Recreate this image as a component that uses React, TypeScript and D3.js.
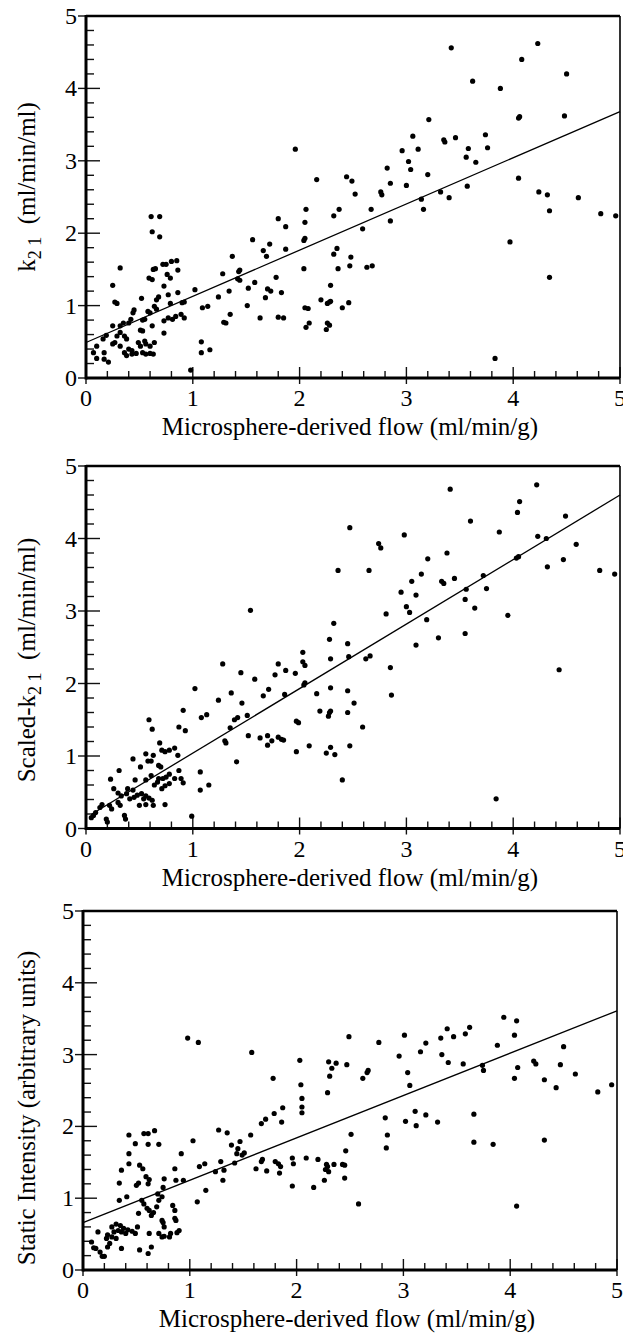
import React, { useEffect, useRef } from 'react';
import * as d3 from 'd3';

// x ticks / y ticks shared by all three panels
const majorTicks = [0, 1, 2, 3, 4, 5];
const xTitle = 'Microsphere-derived flow (ml/min/g)';

// panel 1: k21 vs flow
const k21Points: [number, number][] = [
  [3.42, 4.56], [4.23, 4.62], [4.08, 4.40], [4.50, 4.20], [3.62, 4.10], [3.88, 4.00], [3.21, 3.57], [4.05, 3.59],
  [4.06, 3.61], [4.48, 3.62], [3.06, 3.34], [3.35, 3.29], [3.36, 3.26], [3.46, 3.32], [3.74, 3.36], [2.96, 3.14],
  [3.11, 3.16], [3.58, 3.17], [3.76, 3.18], [3.56, 3.05], [3.65, 2.98], [3.02, 2.99], [3.04, 2.88], [2.82, 2.90],
  [3.20, 2.81], [2.85, 2.69], [3.00, 2.66], [2.16, 2.74], [2.44, 2.78], [2.49, 2.72], [2.52, 2.54], [2.76, 2.57],
  [2.77, 2.53], [4.05, 2.76], [4.24, 2.57], [4.32, 2.53], [4.61, 2.49], [3.32, 2.57], [3.40, 2.49], [3.57, 2.65],
  [1.96, 3.16],
  [3.14, 2.47], [3.16, 2.33], [4.34, 2.31], [4.82, 2.27], [4.96, 2.24], [3.97, 1.88], [4.34, 1.39], [3.83, 0.27],
  [2.32, 2.24], [2.37, 2.33], [2.06, 2.33], [2.05, 2.15], [2.05, 1.93], [2.04, 1.90], [2.04, 1.51], [2.67, 2.33],
  [2.85, 2.17], [2.59, 2.06], [2.32, 1.71], [2.35, 1.79], [2.36, 1.51], [2.48, 1.67], [2.47, 1.55], [2.63, 1.53],
  [2.68, 1.55], [1.80, 2.20], [1.87, 2.09], [1.56, 1.91], [1.72, 1.85], [1.66, 1.76], [1.69, 1.68], [1.87, 1.78],
  [1.37, 1.68], [1.28, 1.44], [1.43, 1.47], [1.44, 1.49], [1.34, 1.20], [1.42, 1.37], [1.44, 1.35], [1.58, 1.32],
  [1.52, 1.24], [1.78, 1.39], [1.70, 1.23], [1.73, 1.20], [1.68, 1.11], [1.83, 1.18], [1.51, 1.00], [1.63, 0.83],
  [1.80, 0.84], [1.85, 0.83], [2.05, 0.97], [2.08, 0.96], [2.06, 0.70], [2.09, 0.76], [2.20, 1.08], [2.28, 1.05],
  [2.26, 1.03], [2.29, 1.06], [2.29, 1.28], [2.26, 0.76], [2.28, 0.73], [2.25, 0.67], [2.40, 0.97], [2.46, 1.04],
  [1.24, 1.12], [1.35, 0.88], [1.29, 0.77], [1.31, 0.76], [1.02, 1.22], [1.09, 0.97], [1.14, 0.99], [1.08, 0.50],
  [1.08, 0.35], [1.16, 0.39], [0.98, 0.11],
  [0.32, 1.52], [0.25, 1.28], [0.27, 1.05], [0.29, 1.03], [0.61, 2.23], [0.69, 2.23], [0.62, 2.02], [0.69, 1.95],
  [0.63, 1.50], [0.65, 1.51], [0.59, 1.38], [0.62, 1.36], [0.72, 1.57], [0.75, 1.57], [0.80, 1.61], [0.85, 1.62],
  [0.79, 1.38], [0.76, 1.43], [0.73, 1.27], [0.86, 1.49], [0.77, 1.15], [0.86, 1.18], [0.68, 1.12], [0.66, 1.08],
  [0.52, 1.10], [0.45, 0.94], [0.44, 0.90], [0.53, 0.80], [0.55, 0.81], [0.58, 0.92], [0.60, 0.90], [0.64, 0.99],
  [0.66, 0.95], [0.79, 1.03], [0.90, 1.04], [0.92, 1.05], [0.73, 0.79], [0.77, 0.83], [0.81, 0.81], [0.84, 0.85],
  [0.89, 0.88], [0.92, 0.83], [0.73, 0.62], [0.62, 0.72], [0.42, 0.81], [0.40, 0.76], [0.32, 0.72], [0.35, 0.76],
  [0.25, 0.72], [0.51, 0.66], [0.53, 0.65], [0.36, 0.58], [0.38, 0.54], [0.29, 0.58], [0.32, 0.63], [0.19, 0.59],
  [0.16, 0.54], [0.10, 0.44], [0.07, 0.35], [0.10, 0.27], [0.17, 0.35], [0.17, 0.26], [0.21, 0.22], [0.25, 0.47],
  [0.27, 0.49], [0.32, 0.44], [0.36, 0.35], [0.40, 0.40], [0.43, 0.38], [0.49, 0.49], [0.51, 0.44], [0.55, 0.51],
  [0.56, 0.47], [0.60, 0.44], [0.64, 0.49], [0.43, 0.33], [0.47, 0.34], [0.53, 0.35], [0.56, 0.33], [0.60, 0.34],
  [0.63, 0.33], [0.38, 0.31],
];
const k21Fit = [0.49, 0.638]; // intercept, slope
const k21FitRange = [0, 5];

// panel 2: scaled k21 vs flow
const scaledPoints: [number, number][] = [
  [3.41, 4.68], [4.22, 4.74], [4.06, 4.51], [4.04, 4.36], [3.60, 4.24], [4.49, 4.31], [2.47, 4.15], [3.87, 4.09],
  [2.98, 4.05], [2.74, 3.93], [2.76, 3.87], [4.23, 4.03], [4.31, 4.00], [4.59, 3.92], [3.38, 3.80], [3.20, 3.72],
  [4.03, 3.73], [4.05, 3.75], [4.47, 3.71], [4.32, 3.61], [4.81, 3.56], [4.95, 3.51], [2.36, 3.56], [2.65, 3.56],
  [3.14, 3.51], [3.05, 3.41], [3.33, 3.41], [3.35, 3.38], [3.45, 3.45], [3.72, 3.49], [3.56, 3.30], [3.75, 3.31],
  [2.95, 3.26], [3.09, 3.22], [3.55, 3.16], [3.64, 3.04], [3.00, 3.06], [3.03, 2.98], [2.81, 2.96], [3.95, 2.94],
  [3.19, 2.88], [2.32, 2.83], [2.28, 2.61], [2.45, 2.55], [3.30, 2.63], [3.55, 2.69], [3.09, 2.53], [2.03, 2.43],
  [2.29, 2.34], [2.46, 2.37], [2.62, 2.34], [2.66, 2.38], [1.54, 3.01],
  [2.85, 2.22], [2.86, 1.84], [4.43, 2.19], [3.84, 0.41], [1.28, 2.27], [1.80, 2.27], [2.03, 2.30], [2.05, 2.25],
  [1.45, 2.15], [1.77, 2.12], [1.87, 2.18], [1.96, 2.14], [1.58, 2.06], [1.02, 1.93], [2.05, 2.01], [2.04, 1.98],
  [1.71, 1.92], [1.36, 1.87], [1.66, 1.83], [1.86, 1.85], [2.16, 1.86], [2.45, 1.90], [2.29, 1.94], [1.24, 1.77],
  [1.46, 1.73], [2.51, 1.73], [0.91, 1.63], [2.19, 1.62], [2.28, 1.60], [2.29, 1.62], [2.27, 1.55], [2.45, 1.60],
  [1.08, 1.53], [1.13, 1.57], [1.39, 1.50], [1.42, 1.53], [1.51, 1.56], [0.59, 1.50], [0.62, 1.37], [0.87, 1.40],
  [0.93, 1.35], [1.35, 1.39], [2.59, 1.40], [1.52, 1.28], [1.30, 1.21], [1.31, 1.18], [1.63, 1.25], [1.70, 1.28],
  [1.70, 1.15], [1.74, 1.21], [1.80, 1.26], [1.83, 1.23], [1.85, 1.22], [1.97, 1.48], [1.99, 1.46], [1.97, 1.06],
  [2.09, 1.14], [2.25, 1.04], [2.29, 1.12], [2.33, 1.02], [2.47, 1.14], [2.40, 0.67], [1.41, 0.92], [1.07, 0.78],
  [1.07, 0.53], [1.15, 0.60], [0.99, 0.17],
  [0.31, 0.80], [0.23, 0.68], [0.44, 0.96], [0.56, 1.03], [0.63, 1.01], [0.69, 1.18], [0.71, 1.08], [0.74, 1.06],
  [0.78, 1.08], [0.83, 1.11], [0.86, 1.01], [0.87, 0.80], [0.58, 0.93], [0.61, 0.93], [0.51, 0.85], [0.68, 0.87],
  [0.70, 0.85], [0.46, 0.67], [0.56, 0.67], [0.61, 0.73], [0.68, 0.69], [0.72, 0.69], [0.75, 0.71], [0.78, 0.75],
  [0.83, 0.69], [0.89, 0.69], [0.91, 0.63], [0.64, 0.60], [0.67, 0.64], [0.71, 0.55], [0.74, 0.59], [0.78, 0.62],
  [0.39, 0.55], [0.44, 0.53], [0.26, 0.55], [0.30, 0.49], [0.33, 0.45], [0.38, 0.48], [0.41, 0.41], [0.45, 0.43],
  [0.48, 0.46], [0.52, 0.48], [0.54, 0.41], [0.56, 0.45], [0.59, 0.42], [0.62, 0.39], [0.50, 0.32], [0.56, 0.33],
  [0.63, 0.32], [0.74, 0.33], [0.15, 0.33], [0.13, 0.29], [0.22, 0.32], [0.24, 0.27], [0.30, 0.36], [0.32, 0.32],
  [0.09, 0.22], [0.07, 0.18], [0.19, 0.13], [0.20, 0.09], [0.36, 0.18], [0.37, 0.13], [0.05, 0.15],
];
const scaledFit = [0.15, 0.89];
const scaledFitRange = [0.06, 5];

// panel 3: static intensity vs flow
const staticPoints: [number, number][] = [
  [0.98, 3.23], [1.08, 3.17], [1.58, 3.03], [2.03, 2.92], [1.78, 2.67], [2.04, 2.58], [2.05, 2.39], [2.05, 2.27],
  [2.05, 2.19], [1.79, 2.18], [1.87, 2.26], [1.71, 2.10],
  [3.94, 3.52], [4.06, 3.47], [4.04, 3.27], [3.41, 3.36], [3.62, 3.38], [3.58, 3.29], [3.35, 3.23], [3.47, 3.25],
  [3.01, 3.27], [2.49, 3.25], [2.77, 3.17], [3.21, 3.16], [3.88, 3.13], [4.50, 3.11], [3.16, 3.04], [2.96, 2.98],
  [3.36, 3.00], [2.30, 2.90], [2.37, 2.88], [2.33, 2.81], [2.47, 2.86], [3.42, 2.89], [3.56, 2.87], [3.74, 2.85],
  [3.75, 2.78], [4.22, 2.91], [4.24, 2.87], [4.47, 2.86], [4.04, 2.67], [4.07, 2.82], [4.32, 2.65], [4.61, 2.73],
  [4.43, 2.54], [4.82, 2.48], [4.95, 2.58], [2.67, 2.78], [2.66, 2.75], [2.62, 2.67], [3.04, 2.75], [3.06, 2.57],
  [2.29, 2.47], [2.31, 2.70], [2.83, 2.12], [3.11, 2.21], [3.21, 2.16], [3.66, 2.17],
  [1.67, 2.04], [1.86, 2.06], [2.85, 1.88], [2.84, 1.70], [3.12, 2.01], [3.02, 2.07], [3.32, 2.06], [3.66, 1.78],
  [3.84, 1.75], [4.32, 1.81], [4.06, 0.89], [2.51, 1.89], [2.58, 0.92], [2.46, 1.66], [2.45, 1.46], [2.43, 1.47],
  [2.45, 1.28], [1.27, 1.95], [1.35, 1.91], [1.57, 1.88], [1.03, 1.80], [1.39, 1.74], [1.45, 1.69], [1.47, 1.79],
  [1.44, 1.62], [1.49, 1.60], [1.51, 1.63], [1.29, 1.51], [1.42, 1.49], [1.09, 1.44], [1.14, 1.48], [1.24, 1.37],
  [1.32, 1.39], [1.31, 1.25], [1.15, 1.11], [1.07, 0.95], [1.62, 1.41], [1.67, 1.51], [1.68, 1.54], [1.72, 1.38],
  [1.80, 1.51], [1.83, 1.48], [1.85, 1.44], [1.84, 1.35], [1.96, 1.56], [1.97, 1.48], [1.96, 1.17], [2.09, 1.56],
  [2.16, 1.15], [2.20, 1.54], [2.28, 1.47], [2.29, 1.44], [2.27, 1.40], [2.30, 1.37], [2.26, 1.25], [2.35, 1.47],
  [0.92, 1.62], [0.86, 1.41], [0.87, 1.25], [0.94, 1.25], [0.43, 1.88], [0.49, 1.76], [0.43, 1.62], [0.43, 1.48],
  [0.57, 1.90], [0.61, 1.90], [0.67, 1.94], [0.61, 1.75], [0.71, 1.75], [0.36, 1.39], [0.34, 1.21], [0.53, 1.46],
  [0.56, 1.41], [0.50, 1.18], [0.52, 1.21], [0.59, 1.30], [0.62, 1.26], [0.61, 1.20], [0.76, 1.27], [0.75, 1.15],
  [0.70, 1.06], [0.74, 1.02], [0.71, 0.97], [0.41, 1.02], [0.34, 0.97], [0.55, 0.97], [0.52, 0.79], [0.57, 0.92],
  [0.60, 0.86], [0.62, 0.83], [0.64, 0.76], [0.66, 0.80], [0.69, 0.88], [0.84, 0.90], [0.86, 0.83], [0.74, 0.69],
  [0.75, 0.66], [0.86, 0.72], [0.87, 0.69], [0.76, 0.60], [0.90, 0.55], [0.88, 0.52], [0.71, 0.51], [0.74, 0.46],
  [0.76, 0.47], [0.81, 0.46], [0.82, 0.51], [0.51, 0.60], [0.46, 0.54], [0.49, 0.51], [0.62, 0.51], [0.27, 0.60],
  [0.31, 0.64], [0.35, 0.62], [0.38, 0.58], [0.42, 0.56], [0.29, 0.53], [0.33, 0.55], [0.36, 0.53], [0.40, 0.51],
  [0.23, 0.49], [0.27, 0.46], [0.31, 0.44], [0.14, 0.53], [0.22, 0.44], [0.25, 0.37], [0.23, 0.32], [0.36, 0.30],
  [0.08, 0.39], [0.12, 0.30], [0.10, 0.31], [0.16, 0.25], [0.18, 0.19], [0.20, 0.19], [0.53, 0.28], [0.61, 0.23],
  [0.64, 0.32],
];
const staticFit = [0.66, 0.59];
const staticFitRange = [0, 5];

const FONT = '"Liberation Serif", "Times New Roman", serif';

const App = () => {
  const ref = useRef<SVGSVGElement>(null);

  useEffect(() => {
    const svg = d3.select(ref.current);
    svg.selectAll('*').remove();

    const panels = [
      { points: k21Points, fit: k21Fit, range: k21FitRange, left: 86, right: 620, top: 16, bottom: 378, pre: 'k', labelY: 187 },
      { points: scaledPoints, fit: scaledFit, range: scaledFitRange, left: 86, right: 620, top: 466, bottom: 828.5, pre: 'Scaled-k', labelY: 660 },
      { points: staticPoints, fit: staticFit, range: staticFitRange, left: 83, right: 617, top: 911, bottom: 1270, pre: '', labelY: 1108 },
    ];

    panels.forEach(p => {
      const x = d3.scaleLinear().domain([0, 5]).range([p.left, p.right]);
      const y = d3.scaleLinear().domain([0, 5]).range([p.bottom, p.top]);
      const g = svg.append('g');

      // minor/major ticks every 0.2, pointing inward
      const minor = d3.range(0, 5.001, 0.2).map(v => Math.round(v * 10) / 10);
      minor.forEach(v => {
        const major = Math.abs(v - Math.round(v)) < 1e-6;
        g.append('line')
          .attr('x1', major ? p.left - 8 : p.left)
          .attr('x2', p.left + (major ? 14 : 8))
          .attr('y1', y(v)).attr('y2', y(v))
          .attr('stroke', '#111').attr('stroke-width', 1.4);
        g.append('line')
          .attr('x1', x(v)).attr('x2', x(v))
          .attr('y1', p.bottom + (major ? 6 : 0))
          .attr('y2', p.bottom - (major ? 11 : 7))
          .attr('stroke', '#111').attr('stroke-width', 1.4);
      });

      // frame: thick left/bottom/top, thin right
      g.append('line').attr('x1', p.left).attr('x2', p.left).attr('y1', p.top - 1).attr('y2', p.bottom + 1.5)
        .attr('stroke', '#000').attr('stroke-width', 3);
      g.append('line').attr('x1', p.left).attr('x2', p.right).attr('y1', p.bottom).attr('y2', p.bottom)
        .attr('stroke', '#000').attr('stroke-width', 3);
      g.append('line').attr('x1', p.left).attr('x2', p.right).attr('y1', p.top).attr('y2', p.top)
        .attr('stroke', '#000').attr('stroke-width', 2.5);
      g.append('line').attr('x1', p.right).attr('x2', p.right).attr('y1', p.top).attr('y2', p.bottom)
        .attr('stroke', '#000').attr('stroke-width', 1.6);

      // tick labels
      g.selectAll('text.yt').data(majorTicks).enter().append('text')
        .attr('x', p.left - 9).attr('y', d => y(d) + 8)
        .attr('text-anchor', 'end')
        .style('font-family', FONT).style('font-size', '24px')
        .text(d => d);
      g.selectAll('text.xt').data(majorTicks).enter().append('text')
        .attr('x', d => x(d)).attr('y', p.bottom + 28)
        .attr('text-anchor', 'middle')
        .style('font-family', FONT).style('font-size', '24px')
        .text(d => d);

      // x title
      g.append('text')
        .attr('x', (p.left + p.right) / 2 - 3).attr('y', p.bottom + 57)
        .attr('text-anchor', 'middle')
        .style('font-family', FONT).style('font-size', '25px')
        .text(xTitle);

      // y title
      const yt = g.append('text')
        .attr('transform', `translate(35, ${p.labelY}) rotate(-90)`)
        .attr('text-anchor', 'middle')
        .style('font-family', FONT).style('font-size', '25px');
      if (p.pre) {
        yt.append('tspan').text(p.pre);
        yt.append('tspan').attr('dy', 6).style('font-size', '18px').text('2\u00a01');
        yt.append('tspan').attr('dy', -6).text('\u00a0\u00a0(ml/min/ml)');
      } else {
        yt.text('Static Intensity (arbitrary units)');
      }

      // regression line
      const line = d3.line<number>().x(d => x(d)).y(d => y(p.fit[0] + p.fit[1] * d));
      g.append('path')
        .attr('d', line(p.range))
        .attr('fill', 'none').attr('stroke', '#000').attr('stroke-width', 1.3);

      // points
      g.selectAll('circle').data(p.points).enter().append('circle')
        .attr('cx', d => x(d[0])).attr('cy', d => y(d[1]))
        .attr('r', 2.6).attr('fill', '#000');
    });
  }, []);

  return (
    <svg ref={ref} width={623} height={1340}
      style={{ position: 'absolute', left: 0, top: 0, background: '#fff' }} />
  );
};

export default App;
